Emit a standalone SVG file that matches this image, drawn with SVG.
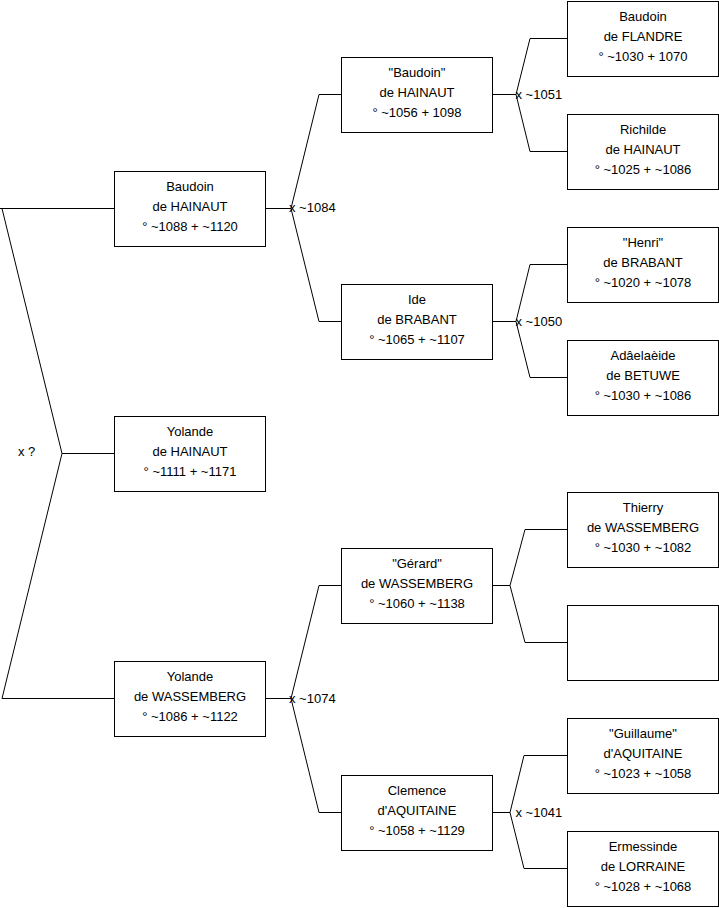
<svg xmlns="http://www.w3.org/2000/svg" width="719" height="908" viewBox="0 0 719 908">
<style>
.box{fill:#fff;stroke:#000;stroke-width:1}
.t{font-family:"Liberation Sans",Arial,sans-serif;font-size:13px;fill:#000;text-anchor:middle}
.l{font-family:"Liberation Sans",Arial,sans-serif;font-size:13px;fill:#000}
.c{fill:none;stroke:#000;stroke-width:1}
</style>
<rect width="719" height="908" fill="#fff"/>
<g id="connectors">
<path class="c" d="M0 208.5H114 M2 208.5L62 453.5L2 698.5H114 M62 453.5H114"/>
<path class="c" d="M265 208.5H291L319 94.5H341 M291 208.5L319 321.5H341"/>
<path class="c" d="M265 698.5H291L319 585.5H341 M291 698.5L319 812.5H341"/>
<path class="c" d="M492 94.5H516L530 38.5H567 M516 94.5L530 151.5H567"/>
<path class="c" d="M492 321.5H516L530 264.5H567 M516 321.5L530 377.5H567"/>
<path class="c" d="M492 585.5H510L525 529.5H567 M510 585.5L525 642.5H567"/>
<path class="c" d="M492 812.5H510L524 755.5H567 M510 812.5L524 868.5H567"/>
<text class="l" x="18" y="456">x ?</text>
<text class="l" x="289" y="212">x ~1084</text>
<text class="l" x="289" y="703">x ~1074</text>
<text class="l" x="515.5" y="99">x ~1051</text>
<text class="l" x="515.5" y="326">x ~1050</text>
<text class="l" x="515.5" y="817">x ~1041</text>
</g>
<g id="baudoin-hainaut"><rect class="box" x="114.5" y="171.5" width="151" height="75"/><text class="t" x="190" y="191">Baudoin</text><text class="t" x="190" y="211">de HAINAUT</text><text class="t" x="190" y="231">° ~1088 + ~1120</text></g>
<g id="yolande-hainaut"><rect class="box" x="114.5" y="416.5" width="151" height="75"/><text class="t" x="190" y="436">Yolande</text><text class="t" x="190" y="456">de HAINAUT</text><text class="t" x="190" y="476">° ~1111 + ~1171</text></g>
<g id="yolande-wassemberg"><rect class="box" x="114.5" y="661.5" width="151" height="75"/><text class="t" x="190" y="681">Yolande</text><text class="t" x="190" y="701">de WASSEMBERG</text><text class="t" x="190" y="721">° ~1086 + ~1122</text></g>
<g id="baudoin-hainaut-2"><rect class="box" x="341.5" y="57.5" width="151" height="75"/><text class="t" x="417" y="77">"Baudoin"</text><text class="t" x="417" y="97">de HAINAUT</text><text class="t" x="417" y="117">° ~1056 + 1098</text></g>
<g id="ide-brabant"><rect class="box" x="341.5" y="284.5" width="151" height="75"/><text class="t" x="417" y="304">Ide</text><text class="t" x="417" y="324">de BRABANT</text><text class="t" x="417" y="344">° ~1065 + ~1107</text></g>
<g id="gerard-wassemberg"><rect class="box" x="341.5" y="548.5" width="151" height="75"/><text class="t" x="417" y="568">"Gérard"</text><text class="t" x="417" y="588">de WASSEMBERG</text><text class="t" x="417" y="608">° ~1060 + ~1138</text></g>
<g id="clemence-aquitaine"><rect class="box" x="341.5" y="775.5" width="151" height="75"/><text class="t" x="417" y="795">Clemence</text><text class="t" x="417" y="815">d'AQUITAINE</text><text class="t" x="417" y="835">° ~1058 + ~1129</text></g>
<g id="baudoin-flandre"><rect class="box" x="567.5" y="1.5" width="151" height="75"/><text class="t" x="643" y="21">Baudoin</text><text class="t" x="643" y="41">de FLANDRE</text><text class="t" x="643" y="61">° ~1030 + 1070</text></g>
<g id="richilde-hainaut"><rect class="box" x="567.5" y="114.5" width="151" height="75"/><text class="t" x="643" y="134">Richilde</text><text class="t" x="643" y="154">de HAINAUT</text><text class="t" x="643" y="174">° ~1025 + ~1086</text></g>
<g id="henri-brabant"><rect class="box" x="567.5" y="227.5" width="151" height="75"/><text class="t" x="643" y="247">"Henri"</text><text class="t" x="643" y="267">de BRABANT</text><text class="t" x="643" y="287">° ~1020 + ~1078</text></g>
<g id="adelaide-betuwe"><rect class="box" x="567.5" y="340.5" width="151" height="75"/><text class="t" x="643" y="360">Adâelaèide</text><text class="t" x="643" y="380">de BETUWE</text><text class="t" x="643" y="400">° ~1030 + ~1086</text></g>
<g id="thierry-wassemberg"><rect class="box" x="567.5" y="492.5" width="151" height="75"/><text class="t" x="643" y="512">Thierry</text><text class="t" x="643" y="532">de WASSEMBERG</text><text class="t" x="643" y="552">° ~1030 + ~1082</text></g>
<g id="unknown"><rect class="box" x="567.5" y="605.5" width="151" height="75"/></g>
<g id="guillaume-aquitaine"><rect class="box" x="567.5" y="718.5" width="151" height="75"/><text class="t" x="643" y="738">"Guillaume"</text><text class="t" x="643" y="758">d'AQUITAINE</text><text class="t" x="643" y="778">° ~1023 + ~1058</text></g>
<g id="ermessinde-lorraine"><rect class="box" x="567.5" y="831.5" width="151" height="75"/><text class="t" x="643" y="851">Ermessinde</text><text class="t" x="643" y="871">de LORRAINE</text><text class="t" x="643" y="891">° ~1028 + ~1068</text></g>
</svg>
